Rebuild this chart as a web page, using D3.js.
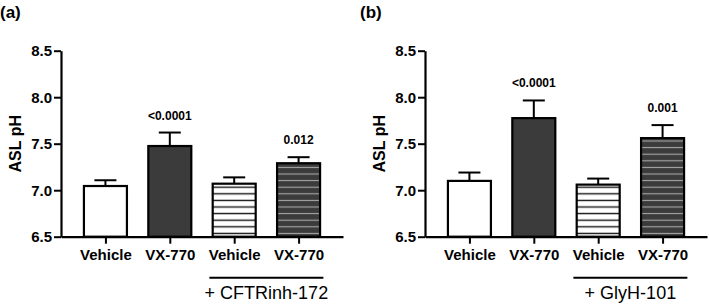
<!DOCTYPE html>
<html>
<head>
<meta charset="utf-8">
<script src="https://cdn.jsdelivr.net/npm/d3@7"></script>
<style>
  body { margin: 0; background: #fff; }
  svg { display: block; }
  text { font-family: "Liberation Sans", Arial, sans-serif; }
</style>
</head>
<body>
<div id="chart"></div>
<script>
// bar chart data
var categories = ["Vehicle", "VX-770", "Vehicle", "VX-770"];
var styles = ["white", "dark", "whiteStripe", "darkStripe"];
var yTicks = [6.5, 7.0, 7.5, 8.0, 8.5];

var meansA = [7.045, 7.475, 7.07, 7.29];
var errA = [0.062, 0.145, 0.068, 0.065];
var pA = ["", "<0.0001", "", "0.012"];

var meansB = [7.10, 7.775, 7.06, 7.56];
var errB = [0.09, 0.19, 0.065, 0.14];
var pB = ["", "<0.0001", "", "0.001"];

var W = 709, H = 305;
var dark = "#3b3b3b";

var svg = d3.select("#chart").append("svg")
    .attr("width", W)
    .attr("height", H);

var y = d3.scaleLinear().domain([6.5, 8.5]).range([236.7, 50.7]);

// stripe patterns, anchored at the x axis
var defs = svg.append("defs");
function stripe(id, bg, fg, sw) {
    var p = defs.append("pattern")
        .attr("id", id)
        .attr("patternUnits", "userSpaceOnUse")
        .attr("x", 0).attr("y", y(6.5))
        .attr("width", 10).attr("height", 6.6);
    p.append("rect").attr("width", 10).attr("height", 6.6).attr("fill", bg);
    p.append("line")
        .attr("x1", 0).attr("x2", 10)
        .attr("y1", 3.3).attr("y2", 3.3)
        .attr("stroke", fg).attr("stroke-width", sw);
}
stripe("whiteStripe", "#fff", "#111", 1.4);
stripe("darkStripe", dark, "#a8a8a8", 1.1);

function fillOf(s) {
    if (s == "white") return "#fff";
    if (s == "dark") return dark;
    return "url(#" + s + ")";
}

function drawPanel(opt) {
    var left = opt.left;
    var g = svg.append("g");

    var x = d3.scalePoint()
        .domain(d3.range(categories.length))
        .range([left, left + 282])
        .padding(0.69);

    var bw = 43;

    var data = categories.map(function (c, i) {
        return { i: i, name: c, mean: opt.means[i], err: opt.errs[i], p: opt.p[i], style: styles[i] };
    });

    // error bars (upper only)
    g.selectAll(".err").data(data).enter().append("line")
        .attr("x1", function (d) { return x(d.i); })
        .attr("x2", function (d) { return x(d.i); })
        .attr("y1", function (d) { return y(d.mean); })
        .attr("y2", function (d) { return y(d.mean + d.err); })
        .attr("stroke", "#000").attr("stroke-width", 2);

    g.selectAll(".cap").data(data).enter().append("line")
        .attr("x1", function (d) { return x(d.i) - 11; })
        .attr("x2", function (d) { return x(d.i) + 11; })
        .attr("y1", function (d) { return y(d.mean + d.err); })
        .attr("y2", function (d) { return y(d.mean + d.err); })
        .attr("stroke", "#000").attr("stroke-width", 2);

    g.selectAll(".bar").data(data).enter().append("rect")
        .attr("x", function (d) { return x(d.i) - bw / 2; })
        .attr("width", bw)
        .attr("y", function (d) { return y(d.mean); })
        .attr("height", function (d) { return y(6.5) - y(d.mean); })
        .attr("fill", function (d) { return fillOf(d.style); })
        .attr("stroke", "#000")
        .attr("stroke-width", 2.2);

    // p values
    g.selectAll(".pval").data(data.filter(function (d) { return d.p; })).enter().append("text")
        .attr("x", function (d) { return x(d.i); })
        .attr("y", function (d) { return y(d.mean + d.err) - 13; })
        .attr("text-anchor", "middle")
        .style("font-size", "12px")
        .style("font-weight", "bold")
        .text(function (d) { return d.p; });

    // axes
    var yAxis = g.append("g")
        .attr("transform", "translate(" + left + ",0)")
        .call(d3.axisLeft(y).tickValues(yTicks).tickFormat(d3.format(".1f"))
            .tickSize(7).tickSizeOuter(0).tickPadding(2));

    var xAxis = g.append("g")
        .attr("transform", "translate(0," + y(6.5) + ")")
        .call(d3.axisBottom(x).tickFormat(function (i) { return categories[i]; })
            .tickSize(7).tickSizeOuter(0).tickPadding(6));

    [yAxis, xAxis].forEach(function (a) {
        a.select(".domain").attr("stroke-width", 2.2);
        a.selectAll(".tick line").attr("stroke-width", 2);
        a.selectAll("text")
            .style("font-size", "15px")
            .style("font-weight", "bold")
            .attr("fill", "#000");
    });
    xAxis.selectAll("text").attr("dy", "0.71em");

    // y title
    g.append("text")
        .attr("transform", "translate(" + (left - 40) + "," + y(7.5) + ") rotate(-90)")
        .attr("text-anchor", "middle")
        .style("font-size", "16px")
        .style("font-weight", "bold")
        .text("ASL pH");

    // panel letter
    g.append("text")
        .attr("x", opt.letterX)
        .attr("y", 18)
        .style("font-size", "17px")
        .style("font-weight", "bold")
        .text(opt.letter);

    // treatment group line
    var mid = (x(2) + x(3)) / 2;
    g.append("line")
        .attr("x1", mid - 57).attr("x2", mid + 57)
        .attr("y1", 277.8).attr("y2", 277.8)
        .attr("stroke", "#000").attr("stroke-width", 2);

    g.append("text")
        .attr("x", mid)
        .attr("y", 299)
        .attr("text-anchor", "middle")
        .style("font-size", "18px")
        .text(opt.group);
}

drawPanel({ left: 61, means: meansA, errs: errA, p: pA, letter: "(a)", letterX: 0, group: "+ CFTRinh-172" });
drawPanel({ left: 425, means: meansB, errs: errB, p: pB, letter: "(b)", letterX: 360, group: "+ GlyH-101" });
</script>
</body>
</html>
